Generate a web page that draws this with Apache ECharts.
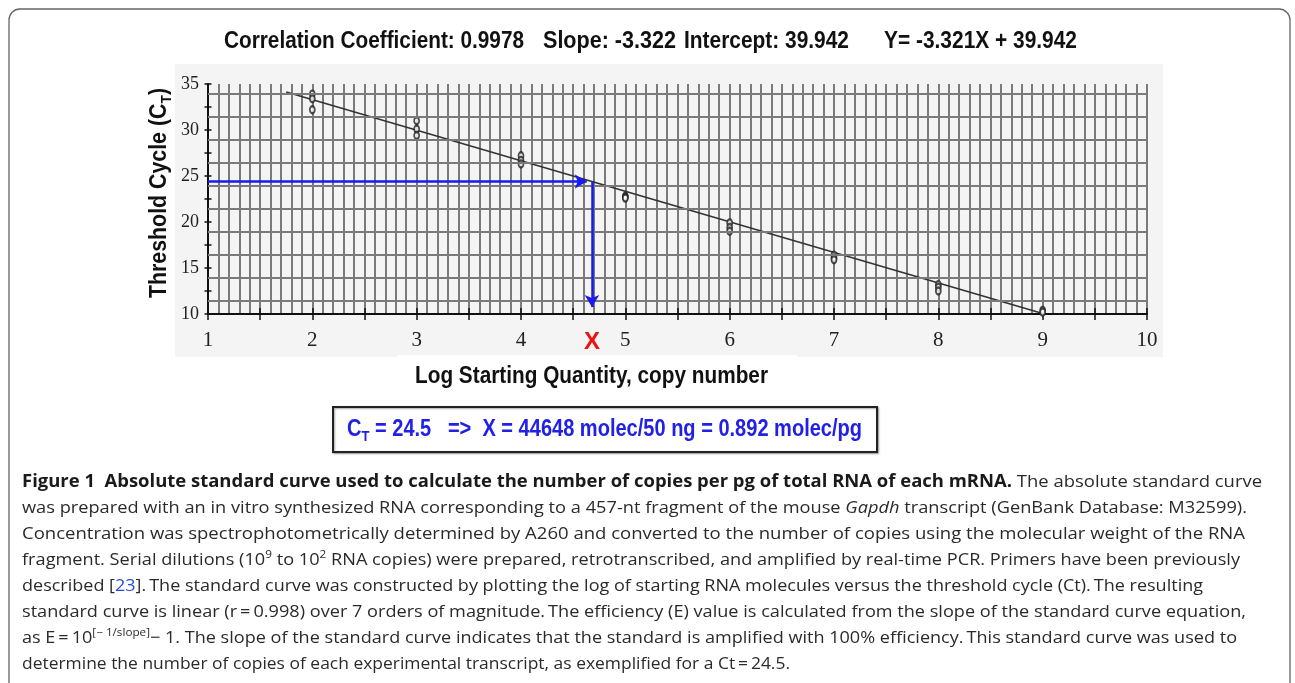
<!DOCTYPE html>
<html><head><meta charset="utf-8">
<script src="https://cdn.jsdelivr.net/npm/echarts@6/dist/echarts.min.js"></script>
<style>html,body{margin:0;padding:0;background:#fff}#c{width:1295px;height:683px}</style>
</head><body><div id="c"></div>
<script>
// ---------------- data ----------------
const logStartingQuantity = [2,2,2, 3,3,3, 4,4,4, 5,5,5, 6,6,6, 7,7,7, 8,8,8, 9,9];
const thresholdCycle      = [33.9,33.4,32.2, 31.0,30.1,29.4, 27.2,26.7,26.3, 22.8,22.7,22.6, 19.9,19.4,19.0, 16.4,16.1,15.9, 13.2,12.9,12.5, 10.4,10.2];
const fitLineX = [1.75, 9.0];
const fitLineY = [34.13, 10.05];
const unknownCt = 24.4;          // threshold read for the unknown
const unknownLogQ = 4.68;        // resulting log quantity (red X)
const arrowHeadX = 4.63;         // horizontal arrow end (data units)
const arrowHeadY = 10.75;        // vertical arrow end (data units)
const hGridValues = [11.45,13.95,16.45,18.95,21.45,23.95,26.45,28.95,31.45,33.95];
const xRange = [1, 10];
const yRange = [10, 35];
const titleParts = ['Correlation Coefficient: 0.9978','Slope: -3.322','Intercept: 39.942','Y= -3.321X + 39.942'];
const xAxisTitle = 'Log Starting Quantity, copy number';
const yAxisTitle = 'Threshold Cycle (C';
const resultText = ' = 24.5   =>  X = 44648 molec/50 ng = 0.892 molec/pg';
const captionLines = [
 [['b','Figure 1  Absolute standard curve used to calculate the number of copies per pg of total RNA of each mRNA.'],['n',' The absolute standard curve']],
 [['n','was prepared with an in vitro synthesized RNA corresponding to a 457-nt fragment of the mouse '],['i','Gapdh'],['n',' transcript (GenBank Database: M32599).']],
 [['n','Concentration was spectrophotometrically determined by A260 and converted to the number of copies using the molecular weight of the RNA']],
 [['n','fragment. Serial dilutions (10'],['sup','9'],['n',' to 10'],['sup','2'],['n',' RNA copies) were prepared, retrotranscribed, and amplified by real-time PCR. Primers have been previously']],
 [['n','described ['],['link','23'],['n','].\u2009The standard curve was constructed by plotting the log of starting RNA molecules versus the threshold cycle (Ct).\u2009The resulting']],
 [['n','standard curve is linear (r\u2009=\u20090.998) over 7 orders of magnitude.\u2009The efficiency (E) value is calculated from the slope of the standard curve equation,']],
 [['n','as E\u2009=\u200910'],['sup','[\u2212 1/slope]'],['n','\u2212 1. The slope of the standard curve indicates that the standard is amplified with 100% efficiency.\u2009This standard curve was used to']],
 [['n','determine the number of copies of each experimental transcript, as exemplified for a Ct\u2009=\u200924.5.']]
];

// ---------------- layout / style ----------------
const GRIDC = '#7a7a7a';
const chart = echarts.init(document.getElementById('c'), null, {renderer:'canvas'});
const cv = document.createElement('canvas').getContext('2d');
function mw(font, s){ cv.font = font; return cv.measureText(s).width; }

const points = logStartingQuantity.map((x,i)=>[x, thresholdCycle[i]]);
const fitLine = fitLineX.map((x,i)=>[x, fitLineY[i]]);
const TICKFONT = '"Liberation Serif", "DejaVu Serif", serif';

chart.setOption({
  animation:false,
  backgroundColor:'#ffffff',
  grid:{left:208, right:148, top:84, bottom:369},
  xAxis:[
    {type:'value', min:xRange[0], max:xRange[1], interval:1, position:'bottom',
     axisLine:{lineStyle:{color:'#111', width:2}}, axisTick:{show:false},
     axisLabel:{fontFamily:TICKFONT, fontSize:21, color:'#222', margin:16},
     splitLine:{show:true, lineStyle:{color:GRIDC, width:2}},
     minorTick:{show:false, splitNumber:10},
     minorSplitLine:{show:true, lineStyle:{color:GRIDC, width:2}}},
    {type:'value', min:xRange[0], max:xRange[1], interval:0.5, position:'bottom', offset:-6,
     axisLine:{show:false}, axisTick:{show:true, length:12, lineStyle:{color:'#111', width:1.5}},
     axisLabel:{show:false}, splitLine:{show:false}}
  ],
  yAxis:[
    {type:'value', min:yRange[0], max:yRange[1], interval:5, position:'left',
     axisLine:{show:true, lineStyle:{color:'#111', width:2}}, axisTick:{show:false},
     axisLabel:{fontFamily:TICKFONT, fontSize:18, color:'#222', margin:9},
     splitLine:{show:false}},
    {type:'value', min:yRange[0], max:yRange[1], interval:2.5, position:'left', offset:-3.5,
     axisLine:{show:false}, axisTick:{show:true, length:7, lineStyle:{color:'#111', width:1.5}},
     axisLabel:{show:false}, splitLine:{show:false}}
  ],
  series:[
    {type:'line', data:[], z:1, silent:true,
     markLine:{silent:true, symbol:'none', label:{show:false}, animation:false,
       lineStyle:{color:GRIDC, width:2, type:'solid'},
       data: hGridValues.map(v=>({yAxis:v}))}},
    {type:'line', data:fitLine, symbol:'none', z:3, lineStyle:{color:'#333', width:1.6}},
    {type:'scatter', data:points, symbol:'emptyCircle', symbolSize:[5,7], z:4,
     itemStyle:{color:'#222', borderColor:'#222', borderWidth:1.4}},
    {type:'line', data:[], z:5,
     markLine:{silent:true, symbol:['none','arrow'], symbolSize:[11,12], label:{show:false}, animation:false,
       lineStyle:{color:'#1a1af0', width:2.5, type:'solid'},
       data:[
         [{coord:[xRange[0], unknownCt]},{coord:[arrowHeadX, unknownCt]}],
         [{coord:[unknownLogQ, unknownCt]},{coord:[unknownLogQ, arrowHeadY]}]
       ]}}
  ]
});

// ---------------- graphic texts ----------------
const boldF = (s)=>'bold '+s+'px "Liberation Sans", Arial, sans-serif';
function fitText(text, font, target){ return target / mw(font, text); }

const g = [];
g.push({type:'rect', z:-10, shape:{x:9, y:9, width:1281, height:720, r:11}, style:{fill:'#fff', stroke:'#666', lineWidth:1.3}});
g.push({type:'rect', z:-9, shape:{x:175, y:64, width:988, height:293}, style:{fill:'#f4f4f4'}});
g.push({type:'rect', z:-8, shape:{x:397, y:355, width:400, height:42}, style:{fill:'#fff'}});

const titleLeft = [224, 543, 684, 884];
const titleRight = [524, 676, 849, 1077];
titleParts.forEach((t,i)=>{
  const f = boldF(23);
  g.push({type:'text', x:titleLeft[i], y:42, scaleX:fitText(t,f,titleRight[i]-titleLeft[i]),
    style:{text:t, font:f, fill:'#111', align:'left', textAlign:'left', verticalAlign:'middle', textVerticalAlign:'middle'}});
});

{ const f = boldF(23);
  g.push({type:'text', x:591.5, y:377, scaleX:fitText(xAxisTitle,f,353),
    style:{text:xAxisTitle, font:f, fill:'#111', align:'center', textAlign:'center', verticalAlign:'middle', textVerticalAlign:'middle'}}); }

{ const f = boldF(23), fs = boldF(15);
  const wTot = mw(f, yAxisTitle) + mw(fs,'T') + mw(f, ')');
  const sx = 210 / wTot;
  g.push({type:'text', x:160, y:193, rotation:Math.PI/2, scaleX:sx,
    style:{text:'{m|'+yAxisTitle+'}{s|T}{m|)}', align:'center', textAlign:'center', verticalAlign:'middle', textVerticalAlign:'middle',
      rich:{m:{fontFamily:'"Liberation Sans", Arial', fontWeight:'bold', fontSize:23, fill:'#111', lineHeight:28, verticalAlign:'middle'},
            s:{fontFamily:'"Liberation Sans", Arial', fontWeight:'bold', fontSize:15, fill:'#111', lineHeight:28, verticalAlign:'bottom'}}}}); }

{ const px = chart.convertToPixel({xAxisIndex:0}, unknownLogQ);
  g.push({type:'text', x:px, y:342, style:{text:'X', font:boldF(24), fill:'#ee1111', align:'center', textAlign:'center', verticalAlign:'middle', textVerticalAlign:'middle'}}); }

g.push({type:'rect', shape:{x:333, y:407, width:544, height:45}, style:{fill:'#fff', stroke:'#222', lineWidth:2, shadowBlur:2, shadowColor:'rgba(0,0,0,0.35)', shadowOffsetX:1, shadowOffsetY:1}});
{ const f = boldF(23), fs = boldF(15);
  const wTot = mw(f,'C') + mw(fs,'T') + mw(f, resultText);
  const sx = 515 / wTot;
  g.push({type:'text', x:347, y:430, scaleX:sx,
    style:{text:'{m|C}{s|T}{m|'+resultText+'}', align:'left', textAlign:'left', verticalAlign:'middle', textVerticalAlign:'middle',
      rich:{m:{fontFamily:'"Liberation Sans", Arial', fontWeight:'bold', fontSize:23, fill:'#2020e6', lineHeight:28, verticalAlign:'middle'},
            s:{fontFamily:'"Liberation Sans", Arial', fontWeight:'bold', fontSize:15, fill:'#2020e6', lineHeight:28, verticalAlign:'bottom'}}}}); }

const CF = '"Open Sans", "Noto Sans", sans-serif';
const capFonts = {b:'bold 17px '+CF, n:'17px '+CF, i:'italic 17px '+CF, sup:'11px '+CF, link:'17px '+CF};
const capRich = {
  b:{fontFamily:CF, fontWeight:'bold', fontSize:17, fill:'#1a1a1a', lineHeight:22, verticalAlign:'middle'},
  n:{fontFamily:CF, fontSize:17, fill:'#2a2a2a', lineHeight:22, verticalAlign:'middle'},
  i:{fontFamily:CF, fontStyle:'italic', fontSize:17, fill:'#2a2a2a', lineHeight:22, verticalAlign:'middle'},
  sup:{fontFamily:CF, fontSize:11, fill:'#2a2a2a', lineHeight:14, verticalAlign:'top'},
  link:{fontFamily:CF, fontSize:17, fill:'#2a4bd6', lineHeight:22, verticalAlign:'middle'}
};
const capRight = [1262,1247,1245,1240,1203,1246,1237,790];
captionLines.forEach((segs,i)=>{
  let wTot = 0, txt = '';
  segs.forEach(([k,t])=>{ wTot += mw(capFonts[k], t); txt += '{'+k+'|'+t+'}'; });
  const sx = (capRight[i]-22)/wTot;
  g.push({type:'text', x:22, y:482 + i*26, scaleX:sx,
    style:{text:txt, rich:capRich, align:'left', textAlign:'left', verticalAlign:'middle', textVerticalAlign:'middle'}});
});

chart.setOption({graphic:g});
</script></body></html>
